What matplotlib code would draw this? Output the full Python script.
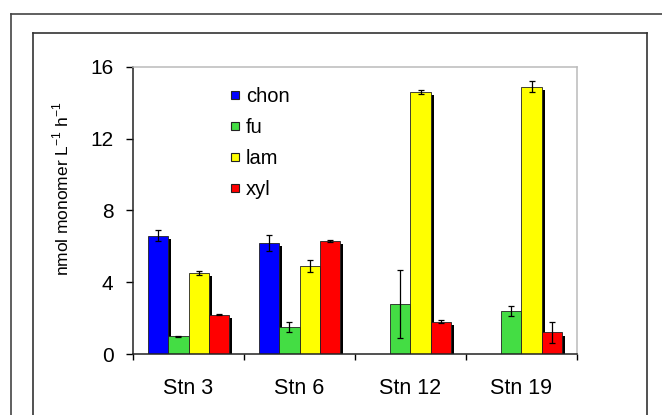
import numpy as np
import matplotlib.pyplot as plt
import matplotlib.patheffects as pe
from matplotlib.lines import Line2D

plt.rcParams['font.family'] = ['Liberation Sans', 'DejaVu Sans']
plt.rcParams['mathtext.fontset'] = 'custom'
plt.rcParams['mathtext.rm'] = 'Liberation Sans'

stations = ['Stn 3', 'Stn 6', 'Stn 12', 'Stn 19']
series = ['chon', 'fu', 'lam', 'xyl']
colors = ['#0000FF', '#44DD44', '#FFFF00', '#FF0000']

chon = [6.6, 6.2, 0.0, 0.0]
chon_err = [0.3, 0.45, 0.0, 0.0]
fu = [1.0, 1.5, 2.8, 2.4]
fu_err = [0.03, 0.3, 1.9, 0.3]
lam = [4.5, 4.9, 14.6, 14.9]
lam_err = [0.1, 0.32, 0.1, 0.3]
xyl = [2.2, 6.3, 1.8, 1.2]
xyl_err = [0.05, 0.08, 0.08, 0.6]

values = [chon, fu, lam, xyl]
errors = [chon_err, fu_err, lam_err, xyl_err]

W, H = 662, 415
fig = plt.figure(figsize=(W / 100, H / 100), dpi=100)

# marcos alrededor del gráfico (borde de la imagen Excel)
def px_line(x0, y0, x1, y1, color):
    fig.add_artist(Line2D([x0 / W, x1 / W], [1 - y0 / H, 1 - y1 / H],
                          transform=fig.transFigure, color=color, lw=1.2))

px_line(11, 14, W, 14, '#444444')
px_line(11, 14, 11, H, '#444444')
px_line(33, 33, 647, 33, '#333333')
px_line(33, 33, 33, H, '#333333')
px_line(647, 33, 647, H, '#333333')

ax = fig.add_axes([133 / W, 61 / H, 444 / W, 287 / H])

x = np.arange(len(stations))
bw = 0.181
for i, (vals, errs, c) in enumerate(zip(values, errors, colors)):
    pos = x + (i - 1.5) * bw
    vals = np.array(vals)
    errs = np.array(errs)
    mask = vals > 0
    ax.bar(pos[mask], vals[mask], bw, color=c, edgecolor='#222222',
           lw=0.6, zorder=2,
           path_effects=[pe.SimplePatchShadow(offset=(2.2, -2.2),
                                              shadow_rgbFace='black', alpha=1),
                         pe.Normal()])
    ax.errorbar(pos[mask], vals[mask], yerr=errs[mask],
                fmt='none', ecolor='black', elinewidth=0.9, capsize=2.5,
                capthick=0.9, zorder=3)

ax.set_xlim(-0.5, 3.5)
ax.set_ylim(0, 16)
ax.set_yticks([0, 4, 8, 12, 16])
ax.tick_params(axis='y', direction='out', length=5, width=1, labelsize=15, pad=9)
ax.set_xticks(x)
ax.set_xticklabels(stations)
ax.set_xticks(np.arange(-0.5, 4.0, 1.0), minor=True)
ax.tick_params(axis='x', which='major', length=0, labelsize=15.5, pad=17)
ax.tick_params(axis='x', which='minor', direction='out', length=4.5, width=1)

for s in ['left', 'bottom']:
    ax.spines[s].set_color('#222222')
    ax.spines[s].set_linewidth(1.1)
for s in ['top', 'right']:
    ax.spines[s].set_color('#BBBBBB')
    ax.spines[s].set_linewidth(1.1)

ax.set_ylabel(r'nmol monomer L$^{\mathrm{-1}}$ h$^{\mathrm{-1}}$', fontsize=12.5)
ax.yaxis.set_label_coords(-0.138, 0.575)

handles = [Line2D([], [], ls='none', marker='s', markersize=5.5, mfc=c,
                  mec='#222222', mew=0.8) for c in colors]
ax.legend(handles, series, loc='upper left', bbox_to_anchor=(0.2, 0.958),
          frameon=False, fontsize=14.5, handlelength=0.5, handletextpad=0.3,
          labelspacing=0.6, borderaxespad=0)

fig.savefig('out.png', dpi=100)
